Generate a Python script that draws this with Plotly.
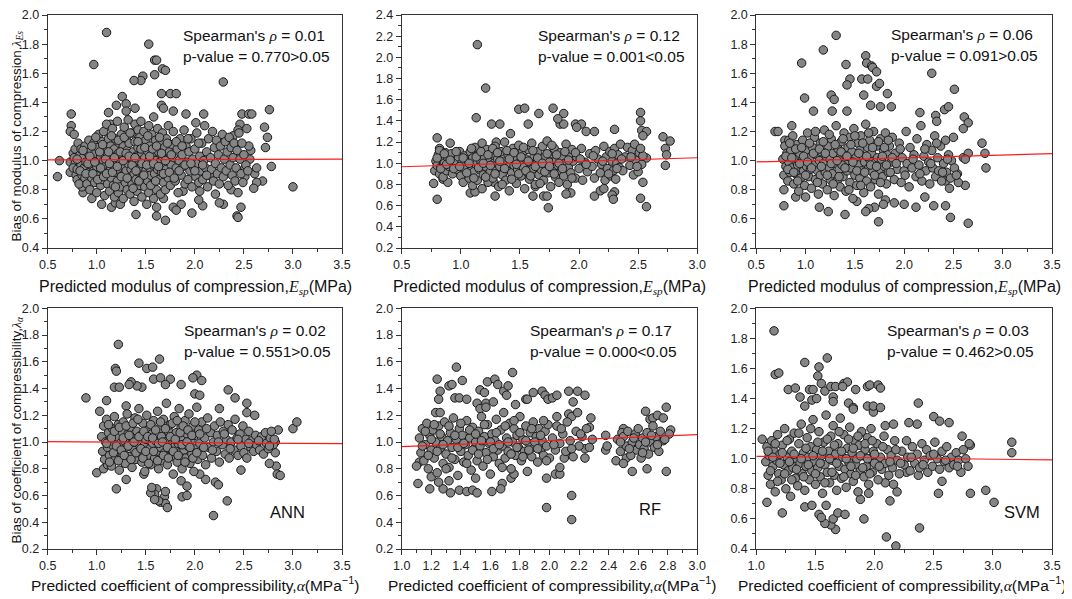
import plotly.graph_objects as go

# the page puts the figure 8 px in from the top-left corner
OFF = 8
W, H = 1072 - OFF, 599 - OFF

# ---- values (x = predicted value, y = bias) ----
es_ann_pts = [
    (0.60, 0.89), (0.62, 1.00), (1.10, 1.88), (0.97, 1.66), (1.53, 1.80), (1.59, 1.69), (1.61, 1.69),
    (1.59, 1.59), (1.67, 1.63), (1.70, 1.62), (1.47, 1.58), (1.45, 1.55), (1.38, 1.55), (2.29, 1.54),
    (1.66, 1.46), (1.75, 1.46), (1.81, 1.46), (1.26, 1.44), (1.20, 1.38), (1.30, 1.39), (1.66, 1.38),
    (1.68, 1.36), (1.78, 1.34), (0.74, 1.32), (2.48, 1.32), (2.55, 1.32), (2.58, 1.32), (2.76, 1.35),
    (3.00, 0.82), (2.71, 1.23), (2.74, 1.16), (2.72, 1.09), (2.78, 0.96), (2.69, 0.86), (2.63, 0.85),
    (2.60, 0.81), (2.43, 0.62), (2.44, 0.61), (2.47, 0.68), (2.29, 0.70), (2.25, 0.71), (2.08, 0.69),
    (1.97, 0.64), (1.70, 0.59), (1.61, 0.62), (1.61, 0.68), (1.40, 0.63), (1.05, 0.70), (1.15, 0.68),
    (1.19, 0.71), (1.24, 0.70), (0.86, 0.78), (0.85, 0.82), (0.95, 0.74), (0.73, 0.92), (0.73, 0.99),
    (0.74, 1.24), (0.73, 1.20), (0.77, 1.18), (1.88, 0.79), (1.86, 0.70), (1.78, 0.68), (1.81, 0.66),
    (1.68, 0.74), (1.39, 1.36), (1.30, 1.34), (1.12, 1.33), (1.14, 1.25), (2.46, 1.25), (2.44, 1.21),
    (2.39, 1.17), (2.09, 1.32), (1.91, 1.32), (2.01, 1.26), (2.04, 0.73), (2.05, 0.79), (2.21, 0.77),
    (2.37, 0.80), (2.51, 0.89), (2.51, 0.95), (2.56, 1.01), (2.57, 1.07), (2.55, 1.10), (2.61, 0.91),
    (2.63, 0.95),
    (0.76, 1.05), (0.77, 1.02), (0.78, 0.98), (0.76, 0.95), (0.79, 0.90), (0.80, 0.87), (0.78, 1.08),
    (0.81, 1.12), (0.82, 1.00), (0.80, 0.94), (0.83, 1.04), (0.84, 0.97), (0.82, 0.84), (0.84, 1.08),
    (0.85, 0.90), (0.86, 1.02), (0.87, 0.95), (0.88, 0.88), (0.88, 1.10), (0.89, 0.99), (0.90, 0.84),
    (0.91, 1.05), (0.92, 0.92), (0.92, 1.14), (0.93, 0.80), (0.94, 0.97), (0.94, 1.07), (0.95, 0.88),
    (0.96, 1.01), (0.97, 0.93), (0.97, 1.12), (0.98, 0.85), (0.99, 1.05), (1.00, 0.96), (1.00, 0.78),
    (1.01, 1.09), (1.02, 0.90), (1.02, 1.18), (1.03, 0.99), (1.04, 0.83), (1.04, 1.03), (1.05, 0.94),
    (1.05, 1.13), (1.06, 0.87), (1.07, 1.00), (1.07, 1.20), (1.08, 0.92), (1.08, 0.76), (1.09, 1.07),
    (1.10, 0.97), (1.10, 1.25), (1.11, 0.84), (1.11, 1.04), (1.12, 0.91), (1.12, 1.15), (1.13, 0.79),
    (1.13, 1.01), (1.14, 0.95), (1.14, 1.10), (1.15, 0.88), (1.16, 1.03), (1.16, 1.22), (1.17, 0.83),
    (1.17, 0.97), (1.18, 1.08), (1.18, 0.75), (1.19, 0.92), (1.19, 1.15), (1.20, 1.00), (1.21, 0.86),
    (1.21, 1.27), (1.22, 1.05), (1.22, 0.78), (1.23, 0.94), (1.23, 1.12), (1.24, 0.99), (1.24, 0.82),
    (1.25, 1.18), (1.26, 0.90), (1.26, 1.04), (1.27, 0.74), (1.27, 1.10), (1.28, 0.96), (1.28, 1.23),
    (1.29, 0.85), (1.29, 1.01), (1.30, 0.93), (1.30, 1.15), (1.31, 0.80), (1.31, 1.07), (1.32, 0.98),
    (1.32, 1.28), (1.33, 0.88), (1.33, 1.12), (1.34, 0.77), (1.34, 1.02), (1.35, 0.94), (1.36, 1.19),
    (1.36, 0.84), (1.37, 1.06), (1.37, 0.99), (1.38, 0.72), (1.38, 0.91), (1.39, 1.13), (1.39, 1.25),
    (1.40, 0.87), (1.40, 1.03), (1.41, 0.96), (1.41, 0.79), (1.42, 1.09), (1.42, 1.21), (1.43, 0.92),
    (1.43, 1.00), (1.44, 0.83), (1.44, 1.16), (1.45, 0.95), (1.45, 1.27), (1.46, 1.05), (1.46, 0.75),
    (1.47, 0.89), (1.47, 1.11), (1.48, 0.98), (1.48, 1.20), (1.49, 0.82), (1.49, 1.02), (1.50, 0.93),
    (1.50, 1.14), (1.51, 0.70), (1.51, 1.07), (1.52, 0.86), (1.52, 0.99), (1.53, 1.24), (1.53, 0.78),
    (1.54, 0.95), (1.54, 1.10), (1.55, 0.90), (1.56, 1.04), (1.56, 1.18), (1.57, 0.84), (1.57, 0.97),
    (1.58, 1.30), (1.58, 0.74), (1.59, 1.08), (1.59, 0.91), (1.60, 1.00), (1.60, 1.14), (1.61, 0.80),
    (1.62, 0.94), (1.62, 1.22), (1.63, 1.06), (1.63, 0.87), (1.64, 0.99), (1.65, 1.12), (1.65, 0.77),
    (1.66, 0.92), (1.67, 1.03), (1.67, 1.19), (1.68, 0.85), (1.69, 0.97), (1.69, 1.09), (1.70, 0.80),
    (1.71, 1.15), (1.71, 0.94), (1.72, 1.01), (1.73, 0.88), (1.73, 1.24), (1.74, 1.06), (1.75, 0.83),
    (1.76, 0.97), (1.77, 1.11), (1.78, 0.91), (1.78, 1.20), (1.79, 1.02), (1.80, 0.86), (1.81, 0.95),
    (1.82, 1.08), (1.83, 0.78), (1.84, 1.00), (1.85, 1.15), (1.86, 0.90), (1.87, 1.04), (1.88, 0.96),
    (1.89, 1.21), (1.90, 0.84), (1.91, 1.10), (1.92, 0.99), (1.93, 0.87), (1.94, 1.06), (1.95, 0.93),
    (1.96, 1.15), (1.97, 0.82), (1.98, 1.01), (1.99, 0.95), (2.00, 1.08), (2.01, 0.89), (2.02, 1.19),
    (2.03, 0.98), (2.04, 0.85), (2.05, 1.03), (2.06, 0.93), (2.07, 1.12), (2.08, 0.87), (2.09, 1.00),
    (2.10, 1.24), (2.11, 0.95), (2.12, 1.06), (2.13, 0.82), (2.14, 1.15), (2.15, 0.90), (2.16, 1.02),
    (2.17, 0.94), (2.18, 1.20), (2.19, 0.86), (2.20, 1.09), (2.21, 0.98), (2.22, 1.14), (2.23, 0.91),
    (2.24, 1.04), (2.25, 0.84), (2.26, 1.10), (2.27, 0.95), (2.28, 1.18), (2.29, 0.89), (2.30, 1.01),
    (2.31, 1.13), (2.32, 0.93), (2.33, 1.06), (2.34, 0.83), (2.35, 1.16), (2.36, 0.97), (2.37, 1.09),
    (2.38, 0.90), (2.39, 1.02), (2.40, 1.12), (2.41, 0.86), (2.42, 0.95), (2.43, 1.07), (2.44, 0.78),
    (2.45, 1.19), (2.46, 1.01), (2.47, 0.91), (2.48, 1.12), (2.49, 0.85), (2.50, 1.04), (2.52, 0.97),
    (2.53, 1.22), (2.54, 0.93),
    (0.80, 1.01), (0.83, 0.93), (0.86, 1.07), (0.89, 0.91), (0.91, 0.98), (0.93, 1.03), (0.95, 1.10),
    (0.96, 0.91), (0.98, 0.99), (0.99, 1.16), (1.01, 0.87), (1.03, 1.06), (1.04, 0.95), (1.06, 1.11),
    (1.07, 0.89), (1.09, 1.01), (1.10, 0.91), (1.12, 1.06), (1.13, 0.98), (1.15, 1.17), (1.16, 0.92),
    (1.18, 1.02), (1.19, 0.82), (1.21, 0.96), (1.22, 1.14), (1.24, 1.06), (1.25, 0.89), (1.27, 1.00),
    (1.28, 1.16), (1.30, 1.05), (1.31, 0.88), (1.33, 1.03), (1.34, 1.19), (1.36, 0.97), (1.37, 0.81),
    (1.39, 1.02), (1.40, 0.93), (1.42, 1.13), (1.43, 0.86), (1.45, 1.08), (1.46, 0.98), (1.48, 0.90),
    (1.49, 1.09), (1.51, 0.97), (1.52, 1.17), (1.54, 1.03), (1.55, 0.83), (1.57, 1.08), (1.58, 0.98),
    (1.60, 0.86), (1.61, 1.10), (1.63, 0.96), (1.64, 1.16), (1.66, 1.05), (1.68, 0.91), (1.70, 1.00),
    (1.72, 1.12), (1.74, 0.92), (1.76, 1.04), (1.79, 0.88), (1.81, 1.13), (1.84, 0.93), (1.87, 1.10),
    (1.90, 0.97), (1.93, 1.15), (1.96, 0.98), (2.00, 0.93), (2.04, 1.12), (2.08, 0.97), (2.12, 0.90),
]

es_rf_pts = [
    (1.14, 2.12), (1.21, 1.71), (1.13, 1.43), (1.49, 1.51), (1.54, 1.52), (1.57, 1.37), (1.33, 1.37),
    (1.66, 1.47), (1.78, 1.52), (1.87, 1.47), (1.84, 1.37), (1.87, 1.37), (1.82, 1.42), (1.97, 1.37),
    (2.02, 1.37), (1.98, 1.34), (2.52, 1.48), (2.52, 1.40), (2.53, 1.31), (2.57, 1.30), (2.54, 1.26),
    (2.30, 1.32), (2.06, 1.30), (2.13, 1.30), (2.71, 1.25), (2.77, 1.21), (2.73, 1.14), (2.74, 1.08),
    (2.73, 0.98), (2.57, 1.05), (2.57, 0.59), (2.52, 0.67), (2.54, 0.82), (2.30, 0.73), (2.28, 0.70),
    (2.29, 0.66), (2.13, 0.69), (2.18, 0.74), (2.21, 0.76), (1.74, 0.58), (1.70, 0.69), (1.73, 0.69),
    (1.61, 0.69), (1.63, 0.78), (1.29, 0.69), (1.28, 0.82), (1.08, 0.72), (1.12, 0.73), (0.80, 0.66),
    (0.77, 0.81), (0.80, 1.24), (0.82, 1.14), (0.91, 1.19), (0.99, 1.11), (1.93, 0.72), (1.89, 0.71),
    (1.26, 1.37), (1.30, 1.20), (1.42, 1.28), (0.85, 0.85), (0.89, 0.82),
    (0.78, 0.93), (0.79, 1.02), (0.80, 0.98), (0.81, 1.08), (0.82, 0.90), (0.82, 1.12), (0.83, 0.96),
    (0.84, 1.04), (0.85, 0.87), (0.86, 1.00), (0.87, 1.10), (0.88, 0.93), (0.89, 1.05), (0.90, 0.97),
    (0.92, 1.09), (0.93, 0.90), (0.95, 1.02), (0.97, 0.94), (0.98, 1.06), (1.00, 0.88), (1.01, 1.00),
    (1.02, 0.82), (1.03, 1.07), (1.04, 0.95), (1.06, 1.03), (1.07, 0.86), (1.08, 1.11), (1.09, 0.97),
    (1.10, 0.79), (1.10, 1.05), (1.11, 0.92), (1.12, 1.15), (1.13, 0.99), (1.14, 0.84), (1.15, 1.08),
    (1.16, 0.94), (1.17, 1.02), (1.18, 0.76), (1.18, 1.19), (1.19, 0.89), (1.20, 1.06), (1.21, 0.97),
    (1.22, 1.13), (1.23, 0.82), (1.24, 1.01), (1.25, 0.92), (1.26, 1.09), (1.27, 0.86), (1.28, 1.00),
    (1.29, 1.16), (1.30, 0.93), (1.31, 1.04), (1.32, 0.78), (1.33, 0.97), (1.34, 1.11), (1.35, 0.89),
    (1.36, 1.02), (1.37, 1.20), (1.38, 0.84), (1.39, 0.95), (1.40, 1.08), (1.41, 0.74), (1.42, 1.00),
    (1.43, 0.91), (1.44, 1.14), (1.45, 0.98), (1.46, 1.05), (1.47, 0.81), (1.48, 0.94), (1.49, 1.17),
    (1.50, 1.01), (1.51, 0.88), (1.52, 1.10), (1.53, 0.96), (1.54, 0.76), (1.55, 1.04), (1.56, 0.92),
    (1.57, 1.13), (1.58, 0.85), (1.59, 1.00), (1.60, 1.19), (1.61, 0.95), (1.62, 1.07), (1.63, 0.80),
    (1.64, 0.99), (1.65, 1.11), (1.66, 0.89), (1.67, 1.03), (1.68, 0.94), (1.69, 1.16), (1.70, 0.84),
    (1.71, 1.06), (1.72, 0.97), (1.73, 1.21), (1.74, 0.91), (1.75, 1.01), (1.76, 0.78), (1.77, 1.09),
    (1.78, 0.95), (1.79, 1.14), (1.80, 0.87), (1.81, 1.03), (1.82, 0.98), (1.83, 0.82), (1.84, 1.10),
    (1.85, 0.93), (1.86, 1.05), (1.87, 0.88), (1.88, 1.00), (1.89, 1.18), (1.90, 0.80), (1.91, 0.96),
    (1.92, 1.08), (1.93, 0.91), (1.94, 1.13), (1.95, 1.02), (1.97, 0.86), (1.98, 1.06), (2.00, 0.95),
    (2.02, 1.14), (2.03, 0.84), (2.05, 1.01), (2.07, 0.92), (2.09, 1.09), (2.11, 0.97), (2.13, 0.86),
    (2.14, 1.12), (2.16, 1.04), (2.18, 0.91), (2.19, 0.99), (2.21, 1.16), (2.22, 0.84), (2.23, 1.06),
    (2.24, 0.95), (2.26, 1.11), (2.27, 0.88), (2.28, 1.02), (2.29, 0.93), (2.30, 1.14), (2.31, 0.85),
    (2.32, 1.00), (2.33, 1.08), (2.34, 0.96), (2.35, 1.18), (2.37, 0.93), (2.39, 1.06), (2.41, 1.15),
    (2.43, 0.98), (2.45, 1.12), (2.46, 0.89), (2.47, 1.18), (2.48, 1.03), (2.50, 0.92), (2.51, 1.10),
    (2.53, 0.99), (2.54, 1.07),
    (0.80, 1.05), (0.83, 0.95), (0.86, 1.09), (0.88, 0.99), (0.91, 1.03), (0.94, 0.95), (0.96, 1.11),
    (0.99, 0.97), (1.02, 1.05), (1.05, 0.91), (1.07, 1.00), (1.09, 1.14), (1.11, 0.86), (1.13, 1.06),
    (1.15, 0.96), (1.17, 1.11), (1.19, 1.00), (1.21, 0.87), (1.23, 1.08), (1.25, 0.98), (1.27, 1.14),
    (1.29, 0.90), (1.31, 1.10), (1.33, 1.02), (1.35, 0.80), (1.37, 0.95), (1.39, 1.12), (1.41, 1.04),
    (1.43, 0.85), (1.45, 1.10), (1.47, 0.99), (1.49, 0.90), (1.51, 1.06), (1.53, 1.15), (1.55, 0.93),
    (1.57, 1.02), (1.59, 0.88), (1.61, 1.12), (1.63, 0.97), (1.65, 1.05), (1.67, 0.81), (1.69, 1.00),
    (1.71, 0.92), (1.73, 1.09), (1.75, 0.97), (1.77, 1.17), (1.79, 0.90), (1.81, 1.08), (1.83, 1.00),
    (1.86, 0.95), (1.88, 1.11), (1.91, 1.03), (1.94, 0.86), (1.97, 1.10), (2.01, 1.04), (2.06, 0.99),
    (2.12, 1.07), (2.20, 1.02), (2.25, 0.90), (2.28, 1.09), (2.32, 0.95), (2.36, 1.04), (2.44, 1.06),
    (2.49, 0.97), (2.52, 1.14),
]

es_svm_pts = [
    (1.31, 1.86), (1.18, 1.76), (0.96, 1.67), (1.41, 1.66), (2.28, 1.60), (1.61, 1.72), (1.62, 1.67),
    (1.67, 1.65), (1.68, 1.64), (1.72, 1.61), (1.57, 1.56), (1.63, 1.56), (1.45, 1.56), (1.42, 1.52),
    (1.72, 1.51), (1.75, 1.53), (1.59, 1.45), (1.26, 1.45), (1.29, 1.42), (0.99, 1.43), (1.08, 1.34),
    (1.27, 1.34), (1.42, 1.34), (1.83, 1.46), (1.66, 1.38), (1.76, 1.37), (1.87, 1.37), (2.51, 1.49),
    (2.41, 1.35), (2.45, 1.37), (2.32, 1.31), (2.33, 1.27), (2.16, 1.33), (2.61, 1.30), (2.65, 1.26),
    (2.60, 1.22), (2.79, 1.12), (2.82, 1.05), (2.83, 0.95), (2.65, 0.57), (2.47, 0.61), (2.30, 0.69),
    (2.42, 0.69), (2.21, 0.75), (2.12, 0.68), (1.74, 0.58), (1.81, 0.73), (1.79, 0.70), (1.70, 0.68),
    (1.64, 0.67), (1.61, 0.65), (1.52, 0.72), (1.40, 0.63), (1.23, 0.65), (1.14, 0.68), (0.78, 0.69),
    (0.78, 0.80), (0.90, 0.75), (1.00, 0.75), (0.69, 1.20), (0.72, 1.20), (0.86, 1.24), (0.79, 1.14),
    (2.00, 0.70), (1.90, 0.71), (2.42, 0.86), (2.46, 0.81), (2.54, 0.91), (2.62, 0.83), (2.55, 0.85),
    (2.60, 1.02), (2.65, 1.05), (2.62, 1.01),
    (0.77, 1.01), (0.78, 0.90), (0.79, 1.10), (0.80, 0.96), (0.81, 1.05), (0.82, 0.86), (0.83, 1.14),
    (0.83, 0.99), (0.84, 0.92), (0.85, 1.07), (0.86, 0.95), (0.87, 1.17), (0.88, 0.84), (0.89, 1.02),
    (0.90, 0.91), (0.91, 1.11), (0.92, 0.97), (0.93, 0.79), (0.94, 1.05), (0.95, 0.88), (0.96, 1.00),
    (0.97, 1.14), (0.98, 0.93), (0.99, 0.83), (1.00, 1.07), (1.01, 0.96), (1.02, 1.19), (1.03, 0.89),
    (1.04, 1.02), (1.05, 0.94), (1.06, 0.81), (1.07, 1.09), (1.08, 0.97), (1.09, 1.16), (1.10, 0.87),
    (1.11, 1.04), (1.12, 0.93), (1.13, 0.77), (1.14, 1.00), (1.15, 1.12), (1.15, 0.90), (1.16, 1.06),
    (1.17, 0.84), (1.18, 0.98), (1.19, 1.21), (1.20, 0.92), (1.21, 1.03), (1.22, 0.80), (1.23, 1.10),
    (1.24, 0.95), (1.25, 1.01), (1.25, 0.87), (1.26, 1.15), (1.27, 0.91), (1.28, 1.05), (1.29, 0.76),
    (1.30, 0.98), (1.31, 1.24), (1.32, 0.86), (1.33, 1.08), (1.34, 0.94), (1.35, 1.02), (1.35, 0.82),
    (1.36, 1.13), (1.37, 0.97), (1.38, 0.89), (1.39, 1.19), (1.40, 1.04), (1.41, 0.79), (1.42, 0.93),
    (1.43, 1.09), (1.44, 1.00), (1.45, 0.85), (1.45, 1.16), (1.46, 0.95), (1.47, 1.06), (1.48, 0.74),
    (1.49, 1.22), (1.50, 0.90), (1.51, 1.02), (1.52, 0.83), (1.53, 1.12), (1.54, 0.97), (1.55, 1.07),
    (1.55, 0.88), (1.56, 1.17), (1.57, 0.93), (1.58, 1.03), (1.59, 0.78), (1.60, 0.99), (1.61, 1.25),
    (1.62, 0.86), (1.63, 1.09), (1.64, 0.95), (1.65, 1.14), (1.65, 1.01), (1.66, 0.82), (1.67, 1.05),
    (1.68, 0.92), (1.69, 1.20), (1.70, 0.98), (1.71, 0.87), (1.72, 1.10), (1.73, 1.02), (1.74, 0.77),
    (1.75, 0.94), (1.76, 1.15), (1.77, 1.01), (1.78, 0.89), (1.79, 1.07), (1.80, 0.96), (1.81, 1.19),
    (1.82, 0.84), (1.83, 1.04), (1.84, 0.92), (1.85, 1.10), (1.87, 0.99), (1.88, 1.16), (1.90, 0.87),
    (1.91, 1.05), (1.93, 0.94), (1.95, 1.12), (1.97, 0.85), (1.98, 1.02), (2.00, 0.93), (2.02, 1.20),
    (2.03, 0.98), (2.05, 0.82), (2.06, 1.09), (2.08, 0.95), (2.10, 1.04), (2.12, 0.89), (2.13, 1.15),
    (2.15, 0.97), (2.17, 1.24), (2.18, 0.86), (2.20, 1.03), (2.22, 0.93), (2.23, 1.11), (2.25, 0.99),
    (2.26, 0.84), (2.28, 1.07), (2.29, 0.95), (2.31, 1.17), (2.32, 0.89), (2.34, 1.02), (2.35, 0.93),
    (2.37, 1.10), (2.38, 0.86), (2.40, 0.98), (2.42, 1.14), (2.43, 0.92), (2.45, 1.04), (2.47, 0.88),
    (2.48, 1.00), (2.50, 1.16), (2.51, 0.95), (2.53, 0.90),
    (0.80, 1.03), (0.82, 0.94), (0.84, 1.12), (0.86, 1.02), (0.88, 0.92), (0.90, 1.08), (0.92, 0.86),
    (0.94, 0.98), (0.96, 1.09), (0.98, 1.03), (1.00, 0.90), (1.02, 0.99), (1.04, 1.12), (1.06, 0.95),
    (1.08, 1.05), (1.10, 1.20), (1.12, 0.85), (1.14, 1.08), (1.16, 0.96), (1.18, 1.13), (1.20, 1.05),
    (1.22, 0.90), (1.24, 1.18), (1.26, 0.98), (1.28, 0.84), (1.30, 1.11), (1.32, 1.00), (1.34, 0.89),
    (1.36, 1.06), (1.38, 1.15), (1.40, 0.95), (1.42, 1.03), (1.44, 0.80), (1.46, 1.11), (1.48, 0.99),
    (1.50, 1.17), (1.52, 0.93), (1.54, 1.05), (1.56, 0.83), (1.58, 1.12), (1.60, 0.92), (1.62, 1.03),
    (1.64, 1.19), (1.66, 0.97), (1.68, 1.09), (1.70, 0.90), (1.72, 0.96), (1.74, 1.13), (1.76, 0.85),
    (1.78, 1.03), (1.80, 1.09), (1.82, 0.97), (1.84, 1.14), (1.86, 0.92), (1.88, 1.02), (1.92, 0.98),
    (1.96, 1.08), (2.01, 0.90), (2.09, 1.01), (2.16, 0.91), (2.21, 1.08), (2.27, 0.98), (2.33, 1.12),
    (2.39, 0.92), (2.44, 1.01),
]

a_ann_pts = [
    (0.89, 1.33), (1.00, 0.77), (1.22, 1.73), (1.19, 1.55), (1.20, 1.53), (1.18, 1.41), (1.23, 1.41),
    (1.43, 1.59), (1.51, 1.55), (1.57, 1.56), (1.64, 1.62), (1.58, 1.47), (1.65, 1.48), (1.75, 1.47),
    (1.70, 1.43), (1.86, 1.43), (2.02, 1.50), (1.98, 1.48), (2.07, 1.46), (1.46, 1.41), (1.41, 1.42),
    (1.35, 1.45), (1.33, 1.43), (1.10, 1.31), (1.03, 1.23), (1.30, 1.27), (2.00, 1.36), (2.05, 1.35),
    (2.34, 1.39), (2.41, 1.33), (2.53, 1.29), (2.25, 1.25), (2.53, 1.22), (2.61, 1.20), (3.00, 1.10),
    (3.04, 1.15), (2.85, 1.09), (2.82, 1.00), (2.82, 0.92), (2.83, 0.82), (2.84, 0.76), (2.87, 0.75),
    (2.76, 0.84), (2.47, 0.79), (2.33, 0.56), (2.19, 0.45), (2.21, 0.70), (2.24, 0.68), (2.11, 0.72),
    (1.87, 0.59), (1.92, 0.60), (1.61, 0.65), (1.59, 0.61), (1.55, 0.62), (1.69, 0.59), (1.65, 0.55),
    (1.70, 0.54), (1.72, 0.51), (1.63, 0.56), (1.59, 0.57), (1.56, 0.66), (1.70, 0.63), (1.20, 0.65),
    (1.07, 0.80), (1.11, 0.83), (1.30, 0.72), (1.48, 0.76), (1.86, 0.71), (1.92, 0.67), (2.05, 0.76),
    (1.05, 1.04), (1.06, 0.93), (1.07, 1.12), (1.08, 0.87), (1.09, 1.00), (1.10, 1.17), (1.11, 0.96),
    (1.12, 1.07), (1.13, 0.90), (1.14, 1.02), (1.15, 0.82), (1.16, 1.10), (1.17, 0.97), (1.18, 1.19),
    (1.19, 0.88), (1.20, 1.04), (1.21, 0.93), (1.22, 1.13), (1.23, 0.79), (1.24, 0.99), (1.25, 1.08),
    (1.26, 0.91), (1.27, 1.15), (1.28, 1.01), (1.29, 0.84), (1.30, 0.96), (1.31, 1.21), (1.32, 1.06),
    (1.33, 0.89), (1.34, 1.11), (1.35, 0.98), (1.36, 0.81), (1.37, 1.03), (1.38, 0.94), (1.39, 1.18),
    (1.40, 0.87), (1.41, 1.08), (1.42, 0.99), (1.43, 1.25), (1.44, 0.92), (1.45, 1.05), (1.46, 0.85),
    (1.47, 1.14), (1.48, 0.97), (1.49, 0.78), (1.50, 1.02), (1.51, 1.20), (1.52, 0.90), (1.53, 1.09),
    (1.54, 0.95), (1.55, 0.83), (1.56, 1.06), (1.57, 0.99), (1.58, 1.16), (1.59, 0.88), (1.60, 1.01),
    (1.61, 0.93), (1.62, 1.23), (1.63, 0.80), (1.64, 1.10), (1.65, 0.96), (1.66, 1.04), (1.67, 0.86),
    (1.68, 1.17), (1.69, 0.92), (1.70, 1.00), (1.71, 1.29), (1.72, 0.83), (1.73, 1.08), (1.74, 0.95),
    (1.75, 1.13), (1.76, 0.89), (1.77, 1.02), (1.78, 0.76), (1.79, 1.19), (1.80, 0.97), (1.81, 1.07),
    (1.82, 0.85), (1.83, 0.99), (1.84, 1.25), (1.85, 0.92), (1.86, 1.11), (1.87, 0.80), (1.88, 1.03),
    (1.89, 0.94), (1.90, 1.16), (1.91, 0.88), (1.92, 1.06), (1.93, 0.97), (1.94, 1.21), (1.95, 0.84),
    (1.96, 1.01), (1.97, 0.91), (1.98, 1.12), (1.99, 0.78), (2.00, 1.05), (2.01, 0.95), (2.02, 1.26),
    (2.03, 0.87), (2.04, 1.09), (2.05, 0.99), (2.07, 1.15), (2.08, 0.90), (2.10, 1.03), (2.11, 0.83),
    (2.13, 1.18), (2.14, 0.96), (2.16, 1.07), (2.17, 0.88), (2.19, 1.00), (2.20, 1.12), (2.22, 0.93),
    (2.23, 1.05), (2.25, 0.85), (2.26, 1.15), (2.28, 0.98), (2.29, 1.08), (2.31, 0.91), (2.32, 1.02),
    (2.34, 1.13), (2.35, 0.88), (2.37, 1.00), (2.38, 1.09), (2.40, 0.94), (2.41, 1.17), (2.43, 1.03),
    (2.44, 0.90), (2.46, 1.06), (2.47, 0.97), (2.49, 1.12), (2.50, 0.92), (2.52, 1.02), (2.53, 0.88),
    (2.55, 1.08), (2.57, 0.96), (2.58, 1.01), (2.60, 0.93), (2.62, 1.05), (2.63, 0.98), (2.66, 0.94),
    (2.68, 1.04), (2.70, 0.91), (2.72, 1.07), (2.73, 0.99), (2.75, 0.95), (2.77, 1.03), (2.78, 1.08),
    (2.80, 0.98), (2.81, 1.02),
    (1.10, 0.99), (1.12, 1.13), (1.13, 0.85), (1.15, 1.03), (1.17, 0.92), (1.18, 1.08), (1.20, 0.97),
    (1.22, 0.86), (1.23, 1.11), (1.25, 0.94), (1.27, 1.03), (1.28, 0.90), (1.30, 1.12), (1.32, 0.97),
    (1.33, 1.05), (1.35, 0.87), (1.37, 1.14), (1.38, 1.00), (1.40, 0.92), (1.42, 1.17), (1.43, 1.04),
    (1.45, 0.95), (1.47, 0.88), (1.48, 1.08), (1.50, 0.93), (1.52, 1.04), (1.53, 0.84), (1.55, 1.13),
    (1.57, 1.03), (1.58, 0.93), (1.60, 1.09), (1.62, 0.86), (1.63, 0.99), (1.65, 1.15), (1.67, 1.00),
    (1.68, 0.90), (1.70, 1.10), (1.72, 0.96), (1.73, 0.88), (1.75, 1.04), (1.77, 1.14), (1.78, 0.93),
    (1.80, 1.02), (1.82, 1.16), (1.83, 0.90), (1.85, 1.07), (1.87, 0.98), (1.88, 1.12), (1.90, 0.85),
    (1.92, 1.00), (1.93, 1.09), (1.95, 0.96), (1.97, 1.05), (1.98, 0.88), (2.00, 1.15), (2.02, 0.92),
    (2.05, 1.06), (2.09, 0.96), (2.12, 1.10), (2.18, 0.94), (2.24, 1.00), (2.30, 1.06), (2.36, 0.95),
    (2.44, 1.02), (2.55, 0.99), (2.65, 1.01), (2.76, 0.97),
]

a_rf_pts = [
    (1.11, 0.69), (1.19, 0.65), (1.37, 1.56), (1.24, 1.47), (1.26, 1.38), (1.25, 1.32), (1.23, 1.22),
    (1.26, 1.22), (1.32, 1.42), (1.34, 1.43), (1.36, 1.33), (1.39, 1.33), (1.41, 1.46), (1.44, 1.32),
    (1.51, 1.29), (1.53, 1.25), (1.53, 1.39), (1.56, 1.37), (1.58, 1.45), (1.63, 1.47), (1.57, 1.29),
    (1.57, 1.26), (1.62, 1.30), (1.65, 1.43), (1.69, 1.38), (1.71, 1.35), (1.75, 1.52), (1.72, 1.42),
    (1.77, 1.28), (1.84, 1.32), (1.85, 1.32), (1.89, 1.37), (1.95, 1.38), (1.97, 1.35), (1.99, 1.32),
    (2.02, 1.33), (2.05, 1.35), (2.13, 1.38), (2.16, 1.30), (2.13, 1.21), (2.15, 1.19), (2.19, 1.38),
    (2.19, 1.22), (2.24, 1.35), (2.05, 1.19), (1.98, 0.51), (2.15, 0.60), (2.15, 0.42), (1.98, 0.73),
    (2.04, 0.76), (2.07, 0.76), (2.07, 0.81), (2.65, 1.23), (2.68, 1.17), (2.70, 1.18), (2.73, 1.20),
    (2.77, 1.18), (2.79, 1.26), (2.77, 1.01), (2.79, 0.78), (2.56, 0.78), (2.66, 0.80), (2.82, 1.09),
    (2.81, 1.06), (2.38, 1.05), (2.38, 0.94), (2.39, 0.97), (2.45, 0.86), (2.50, 1.10), (2.49, 1.07),
    (2.52, 0.88), (2.50, 0.84), (2.28, 1.18), (2.27, 1.11), (2.24, 0.95), (2.24, 0.88), (2.12, 0.91),
    (2.10, 0.88), (1.28, 0.65), (1.33, 0.62), (1.39, 0.64), (1.44, 0.63), (1.48, 0.64), (1.51, 0.62),
    (1.61, 0.63), (1.68, 0.69), (1.67, 0.65), (1.50, 0.73), (1.32, 0.71), (1.25, 0.70), (1.20, 0.74),
    (1.74, 0.73), (1.76, 0.76), (1.12, 0.85), (1.10, 0.82),
    (1.12, 1.03), (1.13, 0.92), (1.14, 1.10), (1.15, 0.86), (1.16, 0.98), (1.17, 1.14), (1.18, 0.80),
    (1.19, 1.05), (1.20, 0.94), (1.21, 1.09), (1.22, 0.88), (1.23, 1.00), (1.24, 0.77), (1.25, 1.12),
    (1.26, 0.95), (1.27, 1.04), (1.28, 0.84), (1.29, 1.15), (1.30, 0.91), (1.31, 1.01), (1.32, 0.81),
    (1.33, 1.07), (1.34, 0.96), (1.35, 1.18), (1.36, 0.87), (1.37, 1.02), (1.38, 0.75), (1.39, 1.10),
    (1.40, 0.93), (1.41, 1.05), (1.42, 0.85), (1.43, 0.98), (1.44, 1.16), (1.45, 0.90), (1.46, 1.03),
    (1.47, 0.79), (1.48, 1.11), (1.49, 0.95), (1.50, 1.00), (1.51, 0.86), (1.52, 1.08), (1.53, 0.97),
    (1.54, 1.19), (1.55, 0.82), (1.56, 1.04), (1.57, 0.92), (1.58, 1.13), (1.59, 0.99), (1.60, 0.76),
    (1.61, 1.06), (1.62, 0.89), (1.63, 1.01), (1.64, 1.17), (1.65, 0.94), (1.66, 0.84), (1.67, 1.09),
    (1.68, 0.97), (1.69, 1.22), (1.70, 0.88), (1.71, 1.03), (1.72, 0.93), (1.73, 1.14), (1.74, 0.80),
    (1.75, 1.00), (1.76, 1.10), (1.77, 0.90), (1.78, 1.05), (1.79, 0.96), (1.80, 1.19), (1.81, 0.86),
    (1.82, 1.02), (1.83, 0.93), (1.84, 1.12), (1.85, 0.78), (1.86, 0.99), (1.87, 1.07), (1.88, 0.89),
    (1.89, 1.15), (1.90, 0.96), (1.91, 1.04), (1.92, 0.85), (1.93, 1.10), (1.94, 0.94), (1.95, 1.01),
    (1.96, 0.90), (1.97, 1.08), (1.98, 0.97), (1.99, 1.13), (2.00, 0.88), (2.02, 1.03), (2.04, 0.94),
    (2.05, 1.12), (2.07, 0.99), (2.09, 1.06), (2.11, 0.93), (2.12, 1.15), (2.14, 1.01), (2.16, 0.89),
    (2.18, 1.08), (2.20, 0.97), (2.22, 1.04), (2.25, 1.10), (2.27, 0.96), (2.29, 1.02), (2.46, 1.02),
    (2.48, 0.93), (2.50, 1.04), (2.52, 0.97), (2.53, 1.08), (2.55, 0.90), (2.56, 1.00), (2.58, 1.06),
    (2.59, 0.94), (2.60, 1.10), (2.61, 0.98), (2.62, 0.88), (2.63, 1.03), (2.64, 0.95), (2.66, 1.07),
    (2.67, 0.91), (2.68, 1.00), (2.70, 1.12), (2.71, 0.96), (2.72, 1.04), (2.74, 0.93), (2.75, 1.08),
    (1.14, 0.97), (1.16, 1.08), (1.18, 0.90), (1.20, 1.02), (1.22, 1.13), (1.24, 0.93), (1.26, 1.06),
    (1.28, 0.98), (1.30, 0.80), (1.32, 1.12), (1.34, 0.88), (1.36, 1.05), (1.38, 0.96), (1.40, 1.14),
    (1.42, 0.99), (1.44, 0.84), (1.46, 1.09), (1.48, 0.94), (1.50, 1.06), (1.52, 0.91), (1.54, 1.01),
    (1.56, 1.13), (1.58, 0.87), (1.60, 1.00), (1.62, 0.95), (1.64, 1.07), (1.66, 0.98), (1.68, 0.81),
    (1.70, 1.12), (1.72, 1.00), (1.74, 0.91), (1.76, 1.16), (1.78, 0.96), (1.80, 1.07), (1.82, 0.89),
    (1.84, 1.01), (1.86, 0.94), (1.88, 1.10), (1.90, 1.00), (1.92, 0.95), (1.94, 1.05), (1.96, 1.16),
    (1.98, 0.86), (2.03, 0.98), (2.08, 1.10), (2.15, 0.95), (2.21, 1.06), (2.48, 1.00), (2.54, 0.95),
    (2.57, 1.03), (2.63, 0.92), (2.65, 1.00), (2.69, 1.05), (2.73, 0.98), (2.78, 1.02),
]

a_svm_pts = [
    (1.15, 1.85), (1.16, 1.56), (1.19, 1.57), (1.05, 1.13), (1.09, 0.71), (1.22, 0.64), (1.41, 1.64),
    (1.60, 1.67), (1.53, 1.61), (1.52, 1.55), (1.55, 1.50), (1.58, 1.45), (1.27, 1.46), (1.33, 1.47),
    (1.37, 1.41), (1.45, 1.46), (1.48, 1.46), (1.41, 1.35), (1.47, 1.39), (1.51, 1.40), (1.63, 1.48),
    (1.67, 1.48), (1.65, 1.41), (1.65, 1.38), (1.74, 1.50), (1.77, 1.51), (1.73, 1.48), (1.78, 1.37),
    (1.82, 1.34), (1.82, 1.33), (1.84, 1.46), (1.94, 1.48), (1.96, 1.49), (2.03, 1.49), (2.05, 1.47),
    (1.94, 1.35), (1.99, 1.31), (1.99, 1.35), (2.05, 1.34), (2.37, 1.37), (2.50, 1.28), (2.55, 1.25),
    (2.63, 1.24), (2.36, 1.23), (2.29, 1.24), (2.09, 1.22), (2.16, 1.23), (3.16, 1.11), (3.16, 1.04),
    (2.94, 0.79), (3.01, 0.71), (2.81, 0.77), (2.81, 1.09), (2.74, 1.15), (2.54, 0.77), (2.57, 0.85),
    (2.38, 0.54), (2.18, 0.42), (2.10, 0.48), (1.91, 0.60), (1.67, 0.53), (1.63, 0.56), (1.58, 0.57),
    (1.65, 0.60), (1.53, 0.63), (1.55, 0.61), (1.41, 0.68), (1.47, 0.69), (1.69, 0.64), (1.75, 0.63),
    (1.59, 0.69), (2.13, 0.72), (2.19, 0.78), (2.16, 0.83), (2.09, 0.84), (2.27, 0.91), (2.37, 0.89),
    (1.88, 0.73), (1.95, 0.77),
    (1.08, 0.98), (1.09, 1.08), (1.10, 0.89), (1.11, 1.02), (1.12, 0.83), (1.13, 1.12), (1.14, 0.95),
    (1.15, 1.05), (1.16, 0.78), (1.17, 0.99), (1.18, 1.16), (1.19, 0.90), (1.20, 1.03), (1.21, 0.86),
    (1.22, 1.09), (1.23, 0.96), (1.24, 1.20), (1.25, 0.80), (1.26, 1.01), (1.27, 0.92), (1.28, 1.13),
    (1.29, 0.75), (1.30, 1.05), (1.31, 0.94), (1.32, 1.17), (1.33, 0.87), (1.34, 1.00), (1.35, 0.82),
    (1.36, 1.10), (1.37, 0.97), (1.38, 1.23), (1.39, 0.90), (1.40, 1.04), (1.41, 0.79), (1.42, 0.95),
    (1.43, 1.14), (1.44, 1.01), (1.45, 0.86), (1.46, 1.08), (1.47, 0.92), (1.48, 1.26), (1.49, 0.98),
    (1.50, 0.83), (1.51, 1.06), (1.52, 0.94), (1.53, 1.18), (1.54, 0.88), (1.55, 1.02), (1.56, 0.77),
    (1.57, 1.11), (1.58, 0.96), (1.59, 1.29), (1.60, 0.91), (1.61, 1.05), (1.62, 0.84), (1.63, 1.15),
    (1.64, 0.99), (1.65, 1.22), (1.66, 0.89), (1.67, 1.03), (1.68, 0.79), (1.69, 1.10), (1.70, 0.95),
    (1.71, 1.27), (1.72, 0.87), (1.73, 1.01), (1.74, 1.16), (1.75, 0.93), (1.76, 0.81), (1.77, 1.07),
    (1.78, 0.98), (1.79, 1.21), (1.80, 0.90), (1.81, 1.04), (1.82, 0.85), (1.83, 1.12), (1.84, 0.96),
    (1.85, 1.00), (1.86, 0.78), (1.87, 1.09), (1.88, 0.92), (1.89, 1.18), (1.90, 1.02), (1.91, 0.88),
    (1.92, 1.06), (1.93, 0.95), (1.94, 1.14), (1.95, 0.83), (1.96, 1.00), (1.97, 1.20), (1.98, 0.91),
    (1.99, 1.05), (2.00, 0.97), (2.02, 1.10), (2.03, 0.86), (2.05, 1.01), (2.06, 0.93), (2.08, 1.15),
    (2.09, 0.97), (2.11, 1.06), (2.12, 0.89), (2.14, 1.02), (2.15, 0.94), (2.17, 1.12), (2.19, 0.99),
    (2.21, 0.90), (2.23, 1.05), (2.25, 0.96), (2.27, 1.12), (2.28, 1.01), (2.30, 0.92), (2.32, 1.08),
    (2.34, 0.97), (2.36, 1.03), (2.38, 0.94), (2.40, 1.10), (2.42, 0.99), (2.44, 1.06), (2.45, 0.91),
    (2.47, 1.02), (2.49, 0.95), (2.51, 1.11), (2.53, 1.00), (2.55, 0.93), (2.57, 1.05), (2.59, 0.98),
    (2.61, 1.08), (2.63, 0.94), (2.65, 1.01), (2.67, 0.96), (2.69, 1.04), (2.71, 0.99), (2.73, 0.91),
    (2.75, 1.06), (2.77, 1.00), (2.79, 0.95), (2.80, 1.10),
    (1.10, 1.05), (1.12, 0.92), (1.14, 1.01), (1.16, 1.10), (1.18, 0.85), (1.20, 0.97), (1.22, 1.04),
    (1.24, 0.90), (1.26, 1.12), (1.28, 0.98), (1.30, 0.86), (1.32, 1.03), (1.34, 0.93), (1.36, 1.17),
    (1.38, 1.00), (1.40, 0.88), (1.42, 1.07), (1.44, 0.96), (1.46, 1.20), (1.48, 1.02), (1.50, 0.90),
    (1.52, 1.11), (1.54, 0.97), (1.56, 1.05), (1.58, 0.84), (1.60, 1.13), (1.62, 1.00), (1.64, 0.91),
    (1.66, 1.09), (1.68, 0.97), (1.70, 1.18), (1.72, 1.05), (1.74, 0.88), (1.76, 1.00), (1.78, 1.13),
    (1.80, 0.95), (1.82, 1.07), (1.84, 0.89), (1.86, 1.15), (1.88, 1.02), (1.90, 0.94), (1.92, 1.10),
    (1.94, 1.00), (1.96, 0.90), (1.98, 1.12), (2.00, 1.03), (2.04, 0.95), (2.07, 1.08), (2.13, 0.98),
    (2.18, 1.06), (2.22, 0.97), (2.31, 1.01), (2.41, 0.96), (2.50, 1.03), (2.60, 0.99), (2.70, 0.95),
]

panel_pts = [es_ann_pts, es_rf_pts, es_svm_pts, a_ann_pts, a_rf_pts, a_svm_pts]

# axis settings per panel
x_ranges = [(0.5, 3.5), (0.5, 3.0), (0.5, 3.5), (0.5, 3.5), (1.0, 3.0), (1.0, 3.5)]
y_ranges = [(0.4, 2.0), (0.2, 2.4), (0.4, 2.0), (0.2, 2.0), (0.2, 2.0), (0.4, 2.0)]
x_dticks = [0.5, 0.5, 0.5, 0.5, 0.2, 0.5]

# fitted line: bias at the left and right ends of each x range
fit_ends = [(1.005, 1.010), (0.967, 1.052), (0.991, 1.048),
            (1.003, 0.988), (0.965, 1.055), (1.016, 0.992)]

rho_text = ["0.01", "0.12", "0.06", "0.02", "0.17", "0.03"]
p_text = ["0.770>0.05", "0.001<0.05", "0.091>0.05", "0.551>0.05", "0.000<0.05", "0.462>0.05"]
model_names = ["ANN", "RF", "SVM"]

# panel boxes in page pixels
cols = [(47.7, 342.0), (401.7, 697.3), (756.3, 1052.0)]
rows = [(15.0, 248.0), (308.3, 549.0)]

FONT = "Arial, Liberation Sans, sans-serif"
SERIF = "Liberation Serif, Times New Roman, serif"
AXIS_COLOR = "#333333"


def px_x(x):
    return min(1.0, max(0.0, (x - OFF) / W))


def px_y(y):
    return min(1.0, max(0.0, 1 - (y - OFF) / H))


def serif(txt):
    return f"<span style='font-family:{SERIF}'><i>{txt}</i></span>"


fig = go.Figure()
layout = {}

for i, pts in enumerate(panel_pts):
    r, c = divmod(i, 3)
    sfx = "" if i == 0 else str(i + 1)
    xs = [p[0] for p in pts]
    ys = [p[1] for p in pts]

    fig.add_trace(go.Scatter(
        x=xs, y=ys, mode="markers", xaxis="x" + sfx, yaxis="y" + sfx,
        marker=dict(size=8.5, color="#858585", line=dict(color="#1a1a1a", width=1)),
        showlegend=False, hoverinfo="skip",
    ))
    x0, x1 = x_ranges[i]
    fig.add_trace(go.Scatter(
        x=[x0, x1], y=list(fit_ends[i]), mode="lines", xaxis="x" + sfx, yaxis="y" + sfx,
        line=dict(color="#ff1a1a", width=1.2), showlegend=False, hoverinfo="skip",
    ))

    common = dict(
        showline=True, mirror=True, linecolor=AXIS_COLOR, linewidth=1,
        ticks="outside", ticklen=5, tickwidth=1, tickcolor=AXIS_COLOR,
        showgrid=False, zeroline=False, automargin=False, ticklabeloverflow="allow",
        tickfont=dict(family=FONT, size=12.5, color="#222222"),
        tickformat=".1f",
    )
    layout["xaxis" + sfx] = dict(
        common, range=list(x_ranges[i]), dtick=x_dticks[i], tick0=x_ranges[i][0],
        domain=[px_x(cols[c][0]), px_x(cols[c][1])], anchor="y" + sfx,
        minor=dict(ticks="outside", ticklen=3, dtick=x_dticks[i] / 2, tickcolor=AXIS_COLOR),
    )
    layout["yaxis" + sfx] = dict(
        common, range=list(y_ranges[i]), dtick=0.2, tick0=0.2,
        domain=[px_y(rows[r][1]), px_y(rows[r][0])], anchor="x" + sfx,
        minor=dict(ticks="outside", ticklen=3, dtick=0.1, tickcolor=AXIS_COLOR),
    )

annotations = []
stat_pos = [(181, 35, 56), (536, 35, 56), (889, 34, 55),
            (182, 330, 351), (528, 330, 351), (885, 330, 351)]
for i, (sx, sy1, sy2) in enumerate(stat_pos):
    annotations.append(dict(
        text=f"Spearman's {serif('ρ')} = {rho_text[i]}", x=px_x(sx), y=px_y(sy1),
        xanchor="left", yanchor="middle", font=dict(size=15.5)))
    annotations.append(dict(
        text=f"p-value = {p_text[i]}", x=px_x(sx), y=px_y(sy2),
        xanchor="left", yanchor="middle", font=dict(size=15.5)))

model_pos = [(287, 512), (650, 509), (1022, 512)]
for name, (mx, my) in zip(model_names, model_pos):
    annotations.append(dict(text=name, x=px_x(mx), y=px_y(my), xanchor="center",
                            yanchor="middle", font=dict(size=16.5)))

# axis titles
top_title = "Predicted modulus of compression," + serif("E<sub>sp</sub>") + "(MPa)"
bot_title = "Predicted coefficient of compressibility," + serif("α") + "(MPa<sup>−1</sup>)"
for cx in [195, 549, 904]:
    annotations.append(dict(text=top_title, x=px_x(cx), y=px_y(287), xanchor="center",
                            yanchor="middle", font=dict(size=16)))
for cx in [195, 552, 902]:
    annotations.append(dict(text=bot_title, x=px_x(cx), y=px_y(584), xanchor="center",
                            yanchor="middle", font=dict(size=15.5)))

annotations.append(dict(
    text="Bias of modulus of compression," + serif("λ<sub>Es</sub>"),
    x=px_x(16.5), y=px_y(136), textangle=-90, xanchor="center", yanchor="middle",
    font=dict(size=13.5)))
annotations.append(dict(
    text="Bias of coefficient of compressibility," + serif("λ<sub>α</sub>"),
    x=px_x(16.5), y=px_y(430), textangle=-90, xanchor="center", yanchor="middle",
    font=dict(size=13.5)))

for a in annotations:
    a["font"] = dict(family=FONT, color="#111111", size=a["font"]["size"])
    a.update(xref="paper", yref="paper", showarrow=False)

fig.update_layout(
    width=W, height=H,
    margin=dict(l=0, r=0, t=0, b=0),
    paper_bgcolor="white", plot_bgcolor="white",
    annotations=annotations,
    **layout,
)

fig.write_html("out.html")
